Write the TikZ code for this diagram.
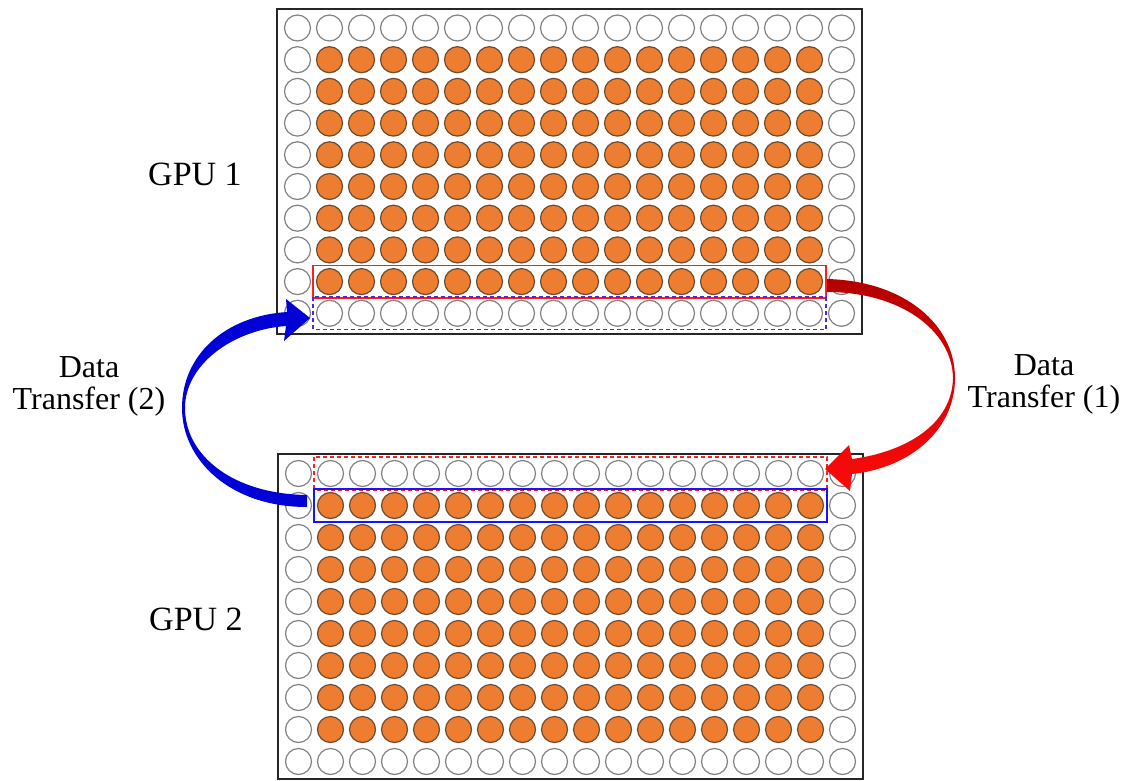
\documentclass[tikz,border=0pt]{standalone}
\usepackage{fontspec}
\setmainfont{Liberation Serif}
\usetikzlibrary{fit}
\definecolor{corange}{RGB}{237,125,49}
\definecolor{cobord}{RGB}{110,75,45}
\definecolor{cwbord}{RGB}{130,130,130}
\definecolor{boxred}{RGB}{255,30,30}
\definecolor{boxblue}{RGB}{20,20,255}
\definecolor{boxdblue}{RGB}{70,40,235}
\definecolor{arrblue}{RGB}{0,0,215}
\definecolor{arrdred}{RGB}{180,0,0}
\definecolor{arrred}{RGB}{255,10,10}
\begin{document}
\begin{tikzpicture}[x=1pt,y=-1pt,
  wcirc/.style={circle,draw=cwbord,fill=white,line width=1.2pt,minimum size=26pt,inner sep=0pt},
  ocirc/.style={circle,draw=cobord,fill=corange,line width=1.2pt,minimum size=26pt,inner sep=0pt},
  gpubox/.style={draw=black!85,line width=2pt,minimum width=585pt,minimum height=325pt,inner sep=0pt},
  rowbox/.style={inner sep=2.5pt},
  rowline/.style={line width=1.6pt},
  dashline/.style={line width=1.6pt,dash pattern=on 4pt off 3pt},
  lbl/.style={font=\fontsize{32}{32}\selectfont,align=center,inner sep=0pt},
  gpulbl/.style={font=\fontsize{34}{36}\selectfont,inner sep=0pt,anchor=base}]
\useasboundingbox (0,0) rectangle (1129,781);
\fill[white] (0,0) rectangle (1129,781);
% GPU boxes
\node[gpubox] (gpu1) at (569.5,171.5) {};
\node[gpubox] (gpu2) at (570,616.5) {};
% circles
\foreach \j in {0,...,9}{
  \foreach \i in {0,...,17}{
    \pgfmathtruncatemacro\isin{and(and(\i>0,\i<17),and(\j>0,\j<9))}
    \ifnum\isin=1 \def\cst{ocirc}\else \def\cst{wcirc}\fi
    \node[\cst] (a\i-\j) at ({297.5+32*\i},{28+31.7*\j}) {};
    \node[\cst] (b\i-\j) at ({298.5+32*\i},{473.5+32*\j}) {};
  }
}
% row boxes
\node[rowbox,fit=(a1-8)(a16-8)] (sendtop) {};
\node[rowbox,fit=(a1-9)(a16-9)] (recvtop) {};
\node[rowbox,fit=(b1-0)(b16-0)] (recvbot) {};
\node[rowbox,fit=(b1-1)(b16-1)] (sendbot) {};
\draw[rowline,draw=boxred] (sendtop.north west) rectangle (sendtop.south east);
\draw[dashline,draw=boxdblue] (recvtop.north west) rectangle (recvtop.south east);
\draw[dashline,draw=boxred] (recvbot.north west) rectangle (recvbot.south east);
\draw[rowline,draw=boxblue] (sendbot.north west) rectangle (sendbot.south east);
% labels
\node[gpulbl] (l1) at (195,185) {GPU 1};
\node[gpulbl] (l2) at (196,630) {GPU 2};
\node[lbl] (dt1) at (1044,384) {Data\\Transfer (1)};
\node[lbl] (dt2) at (89,386) {Data\\Transfer (2)};
% red arrow (1)
\shade[top color=arrdred,bottom color=arrred]
  (827,279) .. controls (905,281) and (955,325) .. (955,378)
  .. controls (955,430) and (910,468) .. (852,474)
  -- (850,491) -- (825,469) -- (849,445) -- (852,459)
  .. controls (905,452) and (952,425) .. (953,378)
  .. controls (952,330) and (900,292) .. (827,292) -- cycle;
% blue arrow (2)
\fill[arrblue]
  (307,507) .. controls (230,507) and (182,460) .. (182,408)
  .. controls (182,355) and (225,316) .. (287,312)
  -- (286,299) -- (310,318) -- (284,341) -- (286,326)
  .. controls (232,330) and (185,365) .. (185,408)
  .. controls (185,455) and (232,494) .. (307,495) -- cycle;
\end{tikzpicture}
\end{document}
